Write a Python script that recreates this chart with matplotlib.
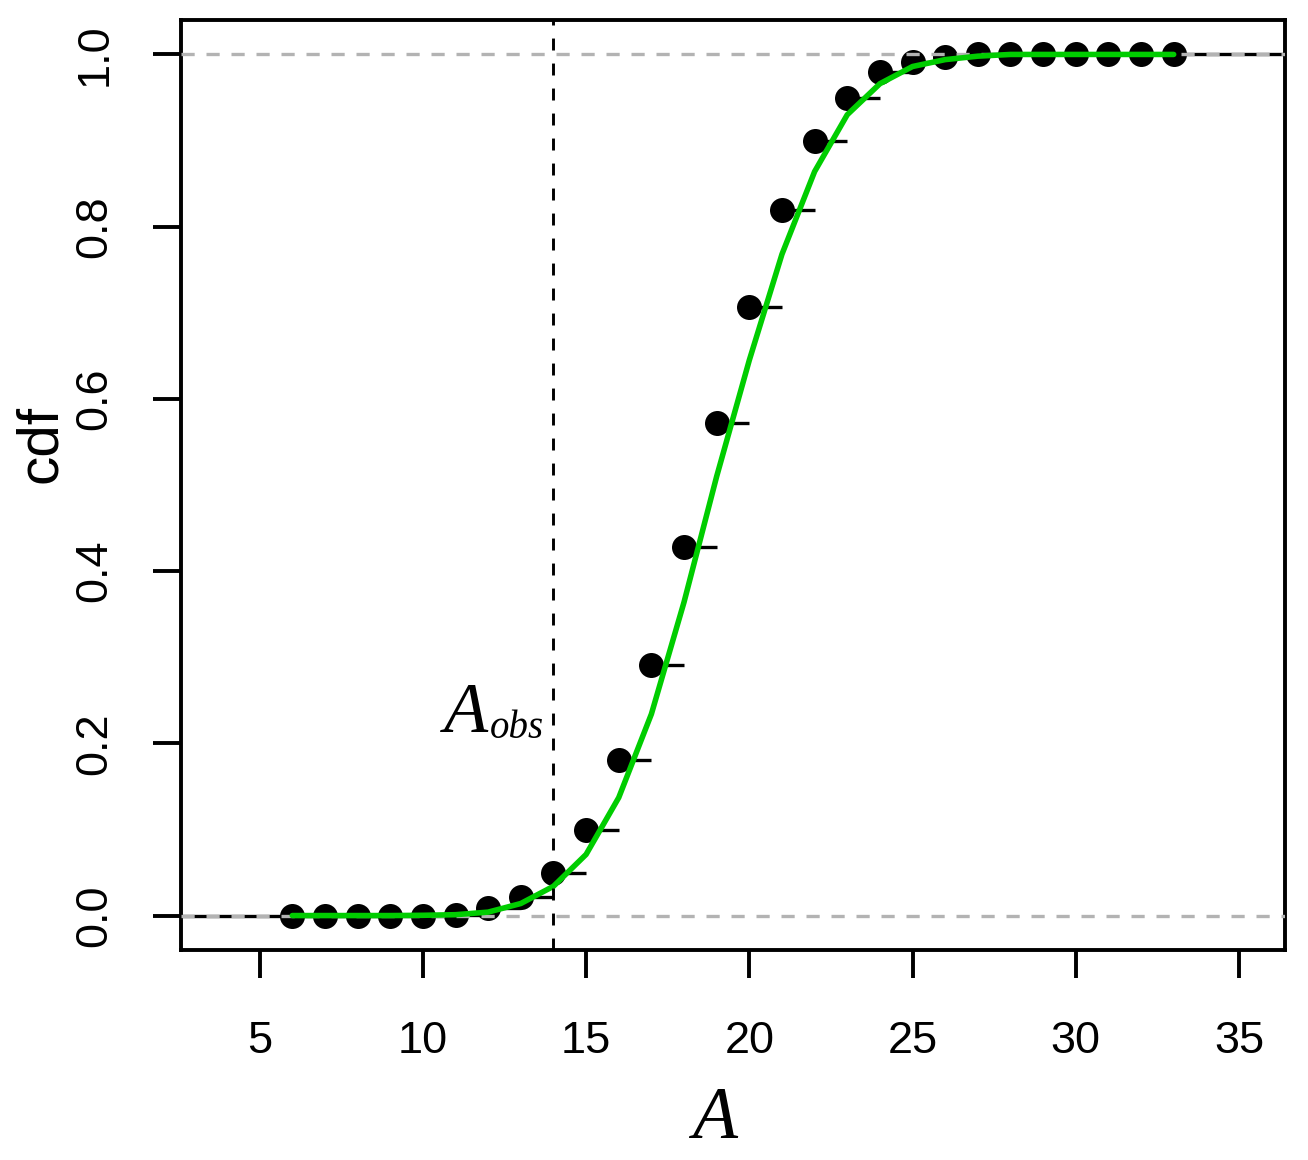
import numpy as np
import matplotlib
matplotlib.use("Agg")
import matplotlib.pyplot as plt

plt.rcParams.update({"font.family": "Liberation Sans", "lines.scale_dashes": False})

# ecdf of simulated A, and the fitted (green) curve, both at integer A
A_vals = [6, 7, 8, 9, 10, 11, 12, 13, 14, 15, 16, 17, 18, 19, 20,
          21, 22, 23, 24, 25, 26, 27, 28, 29, 30, 31, 32, 33]
ecdf_vals = [0.0, 0.0, 0.0, 0.0, 0.0, 0.001, 0.009, 0.022, 0.049, 0.099, 0.181, 0.291, 0.428, 0.572,
             0.707, 0.819, 0.900, 0.950, 0.980, 0.991, 0.997, 1.0, 1.0, 1.0, 1.0, 1.0, 1.0, 1.0]
fit_vals = [0.0, 0.0, 0.0, 0.0, 0.0003, 0.001, 0.004, 0.014, 0.034, 0.071, 0.137, 0.234, 0.364, 0.510,
            0.645, 0.768, 0.864, 0.930, 0.966, 0.986, 0.994, 0.998, 1.0, 1.0, 1.0, 1.0, 1.0, 1.0]
A_OBS = 14
x_ticks = [5, 10, 15, 20, 25, 30, 35]
y_ticks = [0.0, 0.2, 0.4, 0.6, 0.8, 1.0]

W, H = 1308, 1160
fig = plt.figure(figsize=(W / 100, H / 100), dpi=100)
ax = fig.add_axes([181 / W, 1 - 950 / H, (1285 - 181) / W, (950 - 20) / H])

x = np.array(A_vals, float)
y = np.array(ecdf_vals)
xlim = (2.59, 36.41)
ax.set_xlim(*xlim); ax.set_ylim(-0.04, 1.04)

# step segments (R plot.ecdf style, no verticals)
left = np.r_[xlim[0] - 1, x]
right = np.r_[x, xlim[1] + 1]
levels = np.r_[0.0, y]
ax.hlines(levels, left, right, colors="black", lw=2.4, zorder=2)
ax.plot(x, y, "o", color="black", ms=18, mew=0, zorder=3)

for h in (0, 1):
    ax.axhline(h, color="#b3b3b3", lw=2.4, dashes=(9.5, 8.5), zorder=4)
ax.plot(x, fit_vals, color="#00cd00", lw=4.0, zorder=5, solid_capstyle="round")
ax.axvline(A_OBS, color="black", lw=2.1, dashes=(8.6, 9.4), zorder=6)

# A_obs label, left of the observed value
ax.text(A_OBS - 2.68, 0.2133, "A", family="Liberation Serif", style="italic", fontsize=52,
        ha="center", va="baseline")
ax.text(A_OBS - 1.12, 0.2063, "obs", family="Liberation Serif", style="italic", fontsize=28,
        ha="center", va="baseline")

for s in ax.spines.values():
    s.set_linewidth(2.8)
ax.set_xticks(x_ticks)
ax.set_xticklabels([str(t) for t in x_ticks])
ax.set_yticks(y_ticks)
ax.set_yticklabels([f"{t:.1f}" for t in y_ticks], rotation=90, va="center")
ax.tick_params(direction="out", length=20, width=2.8, labelsize=32.5)
ax.tick_params(axis="x", pad=31)
ax.tick_params(axis="y", pad=27)

fig.text(41 / W, 1 - 444 / H, "cdf", fontsize=42, rotation=90, ha="center", va="center")
fig.text(715 / W, 1 - 1138 / H, "A", family="Liberation Serif", style="italic", fontsize=53,
         ha="center", va="baseline")

fig.savefig("out.png", dpi=100, facecolor="white")
